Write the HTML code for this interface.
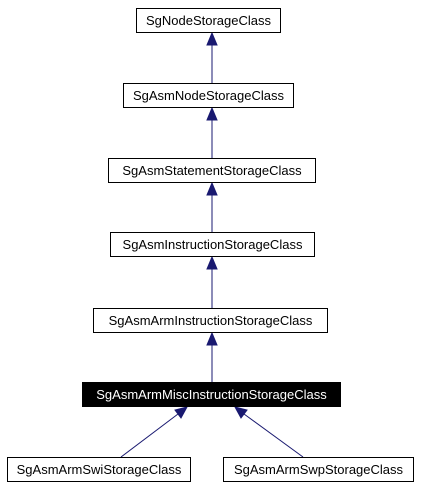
<!DOCTYPE html>
<html><head><style>
body{margin:0;background:#fff;}
.b{position:absolute;border:1px solid #000;box-sizing:border-box;height:25px;font:13px "Liberation Sans",sans-serif;text-align:center;line-height:23px;background:#fff;color:#000;white-space:nowrap;}
</style></head><body>
<svg width="424" height="488" style="position:absolute;left:0;top:0">
<g stroke="#191970" fill="#191970">
<line x1="212" y1="83" x2="212" y2="44"/><polygon points="212,33 207,45 217,45"/>
<line x1="212" y1="158" x2="212" y2="119"/><polygon points="212,108 207,120 217,120"/>
<line x1="212" y1="232" x2="212" y2="194"/><polygon points="212,183 207,195 217,195"/>
<line x1="212" y1="308" x2="212" y2="268"/><polygon points="212,257 207,269 217,269"/>
<line x1="212" y1="382" x2="212" y2="344"/><polygon points="212,333 207,345 217,345"/>
<line x1="121" y1="457" x2="178" y2="414"/><polygon points="187,407 175,410 181,418"/>
<line x1="303" y1="457" x2="244" y2="414"/><polygon points="235,407 241,418 247,410"/>
</g></svg>
<div class="b" style="left:136px;top:8px;width:145px">SgNodeStorageClass</div>
<div class="b" style="left:123px;top:83px;width:171px">SgAsmNodeStorageClass</div>
<div class="b" style="left:108px;top:158px;width:208px">SgAsmStatementStorageClass</div>
<div class="b" style="left:110px;top:232px;width:205px">SgAsmInstructionStorageClass</div>
<div class="b" style="left:93px;top:308px;width:235px">SgAsmArmInstructionStorageClass</div>
<div class="b" style="left:82px;top:382px;width:259px;background:#000;color:#fff">SgAsmArmMiscInstructionStorageClass</div>
<div class="b" style="left:7px;top:457px;width:184px">SgAsmArmSwiStorageClass</div>
<div class="b" style="left:223px;top:457px;width:191px">SgAsmArmSwpStorageClass</div>
</body></html>
